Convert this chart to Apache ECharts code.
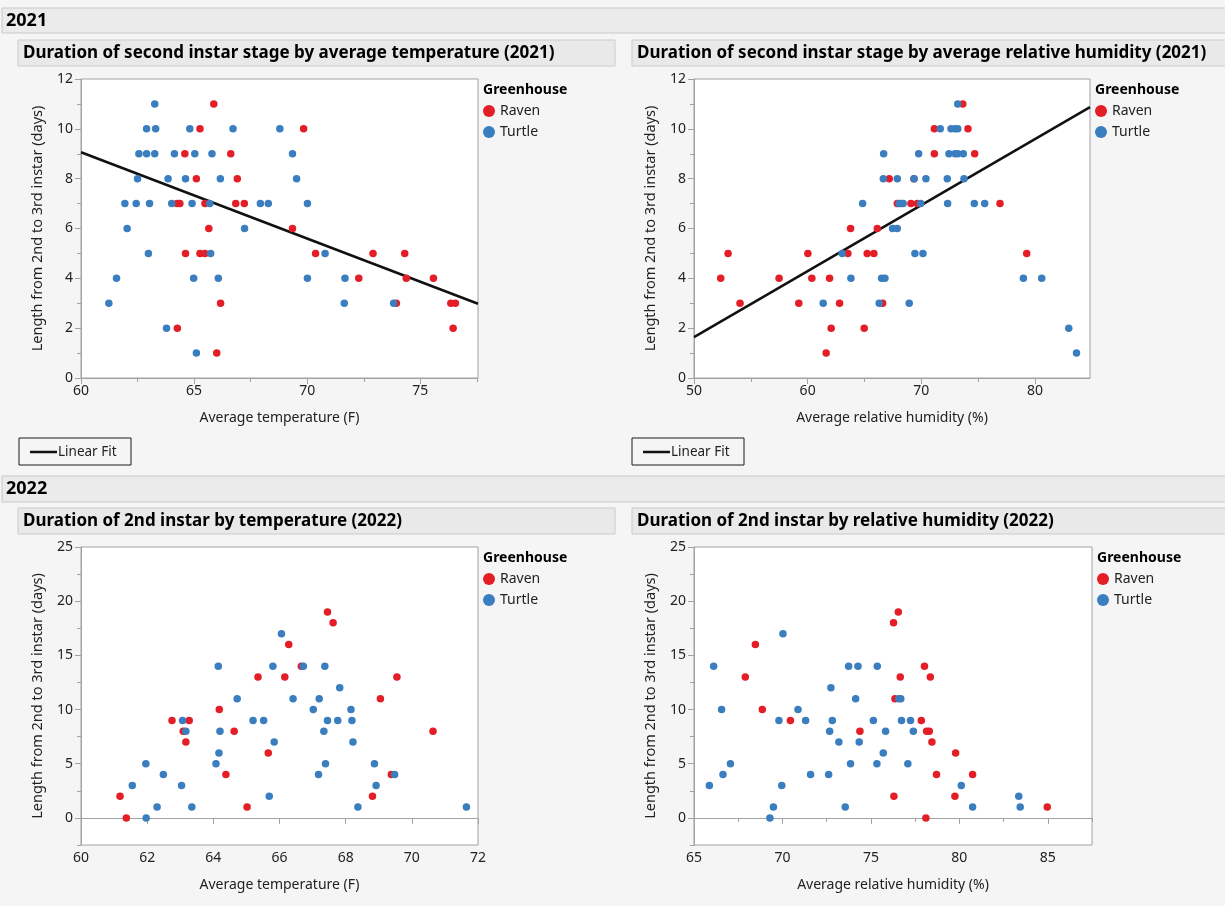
<!DOCTYPE html>
<html>
<head>
<meta charset="utf-8">
<script src="https://cdn.jsdelivr.net/npm/echarts@6/dist/echarts.min.js"></script>
<style>
html,body{margin:0;padding:0;background:#f5f5f5;}
#chart{width:1225px;height:906px;}
</style>
</head>
<body>
<div id="chart"></div>
<script>
// ---------- DATA ----------
const groups = ['Raven', 'Turtle'];
const legendTitle = 'Greenhouse';
const yName = 'Length from 2nd to 3rd instar (days)';

// 2021 – temperature (x = Average temperature (F), y = days)
const raven2021Temp = [
  [65.87,11],[65.26,10],[69.84,10],[64.59,9],[66.62,9],[65.10,8],[66.91,8],
  [64.25,7],[64.37,7],[65.48,7],[66.84,7],[67.22,7],[65.65,6],[69.35,6],
  [64.62,5],[65.26,5],[65.48,5],[70.37,5],[72.91,5],[74.31,5],
  [72.28,4],[74.38,4],[75.58,4],[66.17,3],[73.94,3],[76.35,3],[76.55,3],
  [64.26,2],[76.45,2],[66.0,1]
];
const turtle2021Temp = [
  [63.26,11],[62.90,10],[63.30,10],[64.81,10],[66.72,10],[68.79,10],
  [62.56,9],[62.90,9],[63.26,9],[64.13,9],[65.03,9],[65.79,9],[69.35,9],
  [62.50,8],[63.85,8],[64.62,8],[66.16,8],[69.53,8],
  [61.94,7],[62.44,7],[63.03,7],[64.01,7],[64.91,7],[65.69,7],[67.93,7],[68.28,7],[70.01,7],
  [62.04,6],[67.23,6],[62.98,5],[65.73,5],[70.79,5],
  [61.57,4],[64.98,4],[66.07,4],[70.01,4],[71.67,4],
  [61.23,3],[71.64,3],[73.82,3],[63.78,2],[65.10,1]
];
const fit2021Temp = [[60, 9.06], [77.55, 2.98]];

// 2021 – relative humidity
const raven2021Hum = [
  [73.65,11],[71.15,10],[74.11,10],[71.15,9],[74.70,9],[67.18,8],[69.36,8],
  [67.89,7],[69.09,7],[69.65,7],[76.93,7],[63.78,6],[66.13,6],
  [53.0,5],[60.02,5],[63.54,5],[65.24,5],[65.83,5],[79.28,5],
  [52.35,4],[57.49,4],[60.37,4],[61.93,4],
  [54.05,3],[59.22,3],[62.81,3],[66.60,3],[62.07,2],[64.98,2],[61.63,1]
];
const turtle2021Hum = [
  [73.21,11],[71.67,10],[72.62,10],[72.97,10],[73.21,10],
  [66.69,9],[69.77,9],[72.44,9],[72.97,9],[73.21,9],[73.70,9],
  [66.66,8],[67.89,8],[69.36,8],[70.41,8],[72.29,8],[73.76,8],
  [64.84,7],[68.05,7],[68.18,7],[68.41,7],[69.95,7],[72.32,7],[74.67,7],[75.58,7],
  [67.48,6],[67.89,6],[63.04,5],[69.44,5],[70.15,5],
  [63.81,4],[66.51,4],[66.80,4],[78.99,4],[80.60,4],
  [61.37,3],[66.30,3],[68.94,3],[82.98,2],[83.66,1]
];
const fit2021Hum = [[50, 1.64], [84.85, 10.87]];

// 2022 – temperature
const raven2022Temp = [
  [67.45,19],[67.62,18],[66.28,16],[66.66,14],[65.35,13],[66.16,13],[69.55,13],
  [69.05,11],[64.18,10],[62.75,9],[63.27,9],[63.09,8],[64.63,8],[70.64,8],
  [63.17,7],[65.66,6],[64.38,4],[69.38,4],[61.18,2],[68.81,2],[65.02,1],[61.37,0]
];
const turtle2022Temp = [
  [66.06,17],[64.15,14],[65.80,14],[66.72,14],[67.37,14],[67.82,12],
  [64.72,11],[66.41,11],[67.20,11],[67.02,10],[68.16,10],
  [63.07,9],[65.20,9],[65.52,9],[67.45,9],[67.76,9],[68.19,9],
  [63.17,8],[64.20,8],[67.34,8],[65.84,7],[68.22,7],[64.17,6],
  [61.96,5],[64.08,5],[67.39,5],[68.87,5],[62.49,4],[67.18,4],[69.48,4],
  [61.55,3],[63.04,3],[68.92,3],[65.69,2],[62.30,1],[63.35,1],[68.37,1],[71.65,1],[61.97,0]
];

// 2022 – relative humidity
const raven2022Hum = [
  [76.55,19],[76.28,18],[68.47,16],[78.03,14],[67.90,13],[76.66,13],[78.36,13],
  [76.36,11],[68.86,10],[70.45,9],[77.85,9],[74.38,8],[78.15,8],[78.30,8],
  [78.45,7],[79.79,6],[78.71,4],[80.75,4],[76.30,2],[79.75,2],[84.97,1],[78.11,0]
];
const turtle2022Hum = [
  [70.03,17],[66.11,14],[73.74,14],[74.27,14],[75.36,14],[72.74,12],
  [74.14,11],[76.58,11],[76.69,11],[66.56,10],[70.88,10],
  [69.80,9],[71.31,9],[72.82,9],[75.14,9],[76.73,9],[77.24,9],
  [72.67,8],[75.83,8],[77.40,8],[73.19,7],[74.34,7],[75.70,6],
  [67.06,5],[73.85,5],[75.34,5],[77.09,5],[66.64,4],[71.59,4],[72.61,4],
  [65.87,3],[69.96,3],[80.11,3],[83.36,2],[69.49,1],[73.55,1],[80.75,1],[83.44,1],[69.29,0]
];

// axis ticks
const xMajor2021Temp = [60,65,70,75];           const xMinor2021Temp = [62.5,67.5,72.5,77.5];
const xMajor2021Hum  = [50,60,70,80];           const xMinor2021Hum  = [55,65,75];
const yMajor2021 = [0,2,4,6,8,10,12];           const yMinor2021 = [1,3,5,7,9,11];
const xMajor2022Temp = [60,62,64,66,68,70,72];  const xMinor2022Temp = [];
const xMajor2022Hum  = [65,70,75,80,85];        const xMinor2022Hum  = [67.5,72.5,77.5,82.5,87.5];
const yMajor2022 = [0,5,10,15,20,25];           const yMinor2022 = [-2.5,2.5,7.5,12.5,17.5,22.5];

const sections = ['2021', '2022'];
const panelTitles = [
  'Duration of second instar stage by average temperature (2021)',
  'Duration of second instar stage by average relative humidity (2021)',
  'Duration of 2nd instar by temperature (2022)',
  'Duration of 2nd instar by relative humidity (2022)'
];
const xNames = ['Average temperature (F)', 'Average relative humidity (%)', 'Average temperature (F)', 'Average relative humidity (%)'];
const fitLabel = 'Linear Fit';

// ---------- LAYOUT ----------
const FONT = '"Noto Sans", sans-serif';
const RED = '#e41e26', BLUE = '#3a7ebf';
const panels = [
  {grid:{left:81, top:79, width:397, height:299}, xr:[60,77.55], yr:[0,12], xMaj:xMajor2021Temp, xMin:xMinor2021Temp, yMaj:yMajor2021, yMin:yMinor2021, r:raven2021Temp, t:turtle2021Temp, fit:fit2021Temp},
  {grid:{left:694, top:79, width:396, height:299}, xr:[50,84.85], yr:[0,12], xMaj:xMajor2021Hum, xMin:xMinor2021Hum, yMaj:yMajor2021, yMin:yMinor2021, r:raven2021Hum, t:turtle2021Hum, fit:fit2021Hum},
  {grid:{left:81, top:547, width:397, height:298}, xr:[60,72], yr:[-2.5,25], xMaj:xMajor2022Temp, xMin:xMinor2022Temp, yMaj:yMajor2022, yMin:yMinor2022, r:raven2022Temp, t:turtle2022Temp, fit:null},
  {grid:{left:694, top:547, width:398, height:298}, xr:[65,87.5], yr:[-2.5,25], xMaj:xMajor2022Hum, xMin:xMinor2022Hum, yMaj:yMajor2022, yMin:yMinor2022, r:raven2022Hum, t:turtle2022Hum, fit:null}
];

const grid = [], xAxis = [], yAxis = [], series = [], legend = [];
const axisColor = '#a2a2a2';
const labelStyle = {fontFamily: FONT, fontSize: 14, color: '#222'};

panels.forEach((p, i) => {
  grid.push(Object.assign({show:true, backgroundColor:'#ffffff', borderColor:axisColor, borderWidth:1, containLabel:false}, p.grid));
  xAxis.push({
    type:'value', gridIndex:i, min:p.xr[0], max:p.xr[1],
    name:xNames[i], nameLocation:'middle', nameGap:33,
    nameTextStyle:{fontFamily:FONT, fontSize:14, color:'#222'},
    axisLine:{show:true, lineStyle:{color:axisColor}},
    axisTick:{show:true, length:6, lineStyle:{color:axisColor}, customValues:p.xMaj},
    axisLabel:Object.assign({margin:6, customValues:p.xMaj, showMinLabel:true, showMaxLabel:true}, labelStyle),
    splitLine:{show:false}
  });
  yAxis.push({
    type:'value', gridIndex:i, min:p.yr[0], max:p.yr[1],
    name:yName, nameLocation:'middle', nameGap:36, nameRotate:90,
    nameTextStyle:{fontFamily:FONT, fontSize:14.5, color:'#222'},
    axisLine:{show:true, lineStyle:{color:axisColor}},
    axisTick:{show:true, length:6, lineStyle:{color:axisColor}, customValues:p.yMaj},
    axisLabel:Object.assign({margin:8, customValues:p.yMaj}, labelStyle),
    splitLine:{show:false}
  });
});
panels.forEach((p, i) => {
  xAxis.push({
    type:'value', gridIndex:i, min:p.xr[0], max:p.xr[1], position:'bottom',
    axisLine:{show:false}, axisLabel:{show:false}, splitLine:{show:false},
    axisTick:{show:p.xMin.length>0, length:4, lineStyle:{color:axisColor}, customValues:p.xMin.length?p.xMin:[p.xr[0]]}
  });
  yAxis.push({
    type:'value', gridIndex:i, min:p.yr[0], max:p.yr[1], position:'left',
    axisLine:{show:false}, axisLabel:{show:false}, splitLine:{show:false},
    axisTick:{show:true, length:4, lineStyle:{color:axisColor}, customValues:p.yMin}
  });
});

panels.forEach((p, i) => {
  if (p.fit) {
    series.push({
      name:fitLabel, type:'line', xAxisIndex:i, yAxisIndex:i, data:p.fit,
      showSymbol:false, symbol:'none', lineStyle:{color:'#111', width:2.5}, z:3, silent:true
    });
  }
  series.push({name:groups[0], type:'scatter', xAxisIndex:i, yAxisIndex:i, data:p.r, symbolSize:7.5, itemStyle:{color:RED, opacity:1}, z:4});
  series.push({name:groups[1], type:'scatter', xAxisIndex:i, yAxisIndex:i, data:p.t, symbolSize:7.5, itemStyle:{color:BLUE, opacity:1}, z:4});
  const lx = p.grid.left + p.grid.width + 5;
  legend.push({
    data:groups, orient:'vertical', left:lx, top:p.grid.top + 25, padding:0,
    icon:'circle', itemWidth:12, itemHeight:12, itemGap:7, selectedMode:false,
    textStyle:{fontFamily:FONT, fontSize:14, color:'#222'}
  });
});

// ---------- DECORATIONS ----------
const graphic = [];
function band(y, h, label) {
  graphic.push({type:'rect', shape:{x:2, y:y, width:1240, height:h}, style:{fill:'#ebebeb', stroke:'#c9c9c9', lineWidth:1}, silent:true});
  graphic.push({type:'text', x:6, y:y + h/2, style:{text:label, font:'bold 18px ' + FONT, fill:'#000', verticalAlign:'middle'}});
}
function titleBox(x, y, w, h, label) {
  graphic.push({type:'rect', shape:{x:x, y:y, width:w, height:h}, style:{fill:'#e9e9e9', stroke:'#cbcbcb', lineWidth:1}, silent:true});
  graphic.push({type:'text', x:x + 5, y:y + h/2, style:{text:label, font:'bold 17px ' + FONT, fill:'#000', verticalAlign:'middle'}});
}
function fitBox(x, y) {
  graphic.push({type:'rect', shape:{x:x, y:y, width:112, height:27}, style:{fill:'#f5f5f5', stroke:'#1a1a1a', lineWidth:1}, silent:true});
  graphic.push({type:'line', shape:{x1:x + 11, y1:y + 14, x2:x + 38, y2:y + 14}, style:{stroke:'#111', lineWidth:2.5}, silent:true});
  graphic.push({type:'text', x:x + 39, y:y + 14, style:{text:fitLabel, font:'13.5px ' + FONT, fill:'#222', verticalAlign:'middle'}});
}
band(8, 25, sections[0]);
titleBox(18, 40, 597, 26, panelTitles[0]);
titleBox(632, 40, 610, 26, panelTitles[1]);
fitBox(19, 438);
fitBox(632, 438);
band(476, 26, sections[1]);
titleBox(18, 508, 597, 26, panelTitles[2]);
titleBox(632, 508, 610, 26, panelTitles[3]);
panels.forEach(p => {
  graphic.push({type:'text', x:p.grid.left + p.grid.width + 5, y:p.grid.top + 11,
    style:{text:legendTitle, font:'bold 14px ' + FONT, fill:'#000', verticalAlign:'middle'}});
});

const chart = echarts.init(document.getElementById('chart'), null, {renderer:'canvas'});
chart.setOption({
  backgroundColor:'#f5f5f5',
  animation:false,
  grid, xAxis, yAxis, series, legend, graphic
});
</script>
</body>
</html>
